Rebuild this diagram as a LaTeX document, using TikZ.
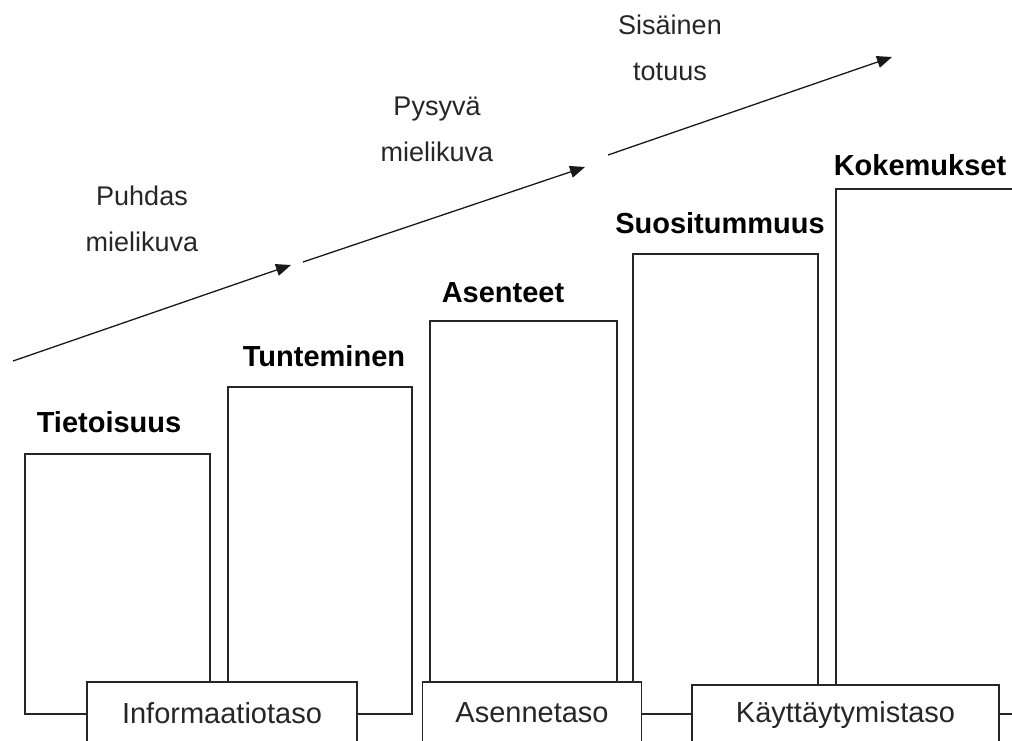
\documentclass[tikz,border=0pt]{standalone}
\usepackage{fontspec}
\setmainfont{Liberation Sans}
\usetikzlibrary{arrows.meta}
\tikzset{
  bar/.style={draw=black!85, line width=1.6pt, fill=white, anchor=north west, inner sep=0pt},
  lvl/.style={draw=black!85, line width=1.6pt, fill=white, inner sep=0pt, font=\fontsize{29}{34}\selectfont, text=black!85},
  ttl/.style={anchor=base, inner sep=0pt, font=\fontsize{29}{34}\selectfont\bfseries},
  lbl/.style={align=center, inner sep=0pt, font=\fontsize{27}{46}\selectfont, text=black!85},
  arr/.style={draw=black!90, line width=1.3pt, -{Triangle[length=15pt,width=12pt]}}
}
\begin{document}
\begin{tikzpicture}[x=1pt,y=-1pt]
\useasboundingbox (0,0) rectangle (1012,740);
\clip (0,0) rectangle (1012,740);
% bars
\node[bar, minimum width=185pt, minimum height=260pt] (b1) at (24,453) {};
\node[bar, minimum width=184pt, minimum height=327pt] (b2) at (227,386) {};
\node[bar, minimum width=187pt, minimum height=393pt] (b3) at (429,320) {};
\node[bar, minimum width=185pt, minimum height=460pt] (b4) at (632,253) {};
\node[bar, minimum width=185pt, minimum height=525pt] (b5) at (835,188) {};
% titles
\node[ttl] (t1) at (109,432) {Tietoisuus};
\node[ttl] (t2) at (324,366) {Tunteminen};
\node[ttl] (t3) at (503,302) {Asenteet};
\node[ttl] (t4) at (720,233) {Suositummuus};
\node[ttl] (t5) at (920,175) {Kokemukset};
% level boxes
\node[lvl, minimum width=270pt, minimum height=62pt] (l1) at (222,713) {Informaatiotaso};
\node[lvl, minimum width=219pt, minimum height=62pt] (l2) at (532,713) {Asennetaso};
\node[lvl, minimum width=307pt, minimum height=60pt] (l3) at (845.5,715) {Käyttäytymistaso};
% arrows
\coordinate (a1s) at (13,361);
\coordinate (a1e) at (291,265);
\coordinate (a2s) at (303,262);
\coordinate (a2e) at (585,167);
\coordinate (a3s) at (608,155);
\coordinate (a3e) at (892,57);
\draw[arr] (a1s) -- (a1e);
\draw[arr] (a2s) -- (a2e);
\draw[arr] (a3s) -- (a3e);
% arrow labels
\node[lbl] (p1) at (142,219) {Puhdas\\mielikuva};
\node[lbl] (p2) at (437,129) {Pysyvä\\mielikuva};
\node[lbl] (p3) at (670,48) {Sisäinen\\totuus};
\end{tikzpicture}
\end{document}
